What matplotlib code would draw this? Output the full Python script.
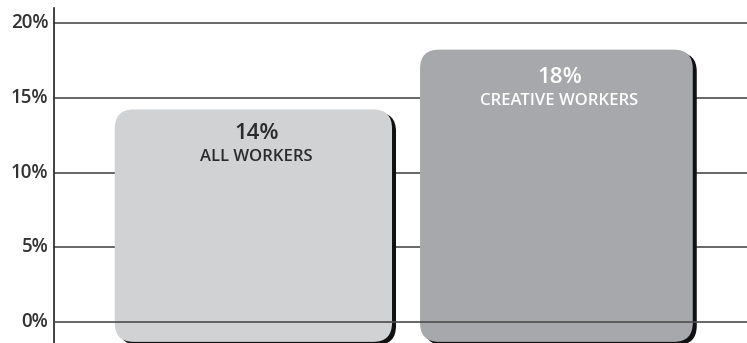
import matplotlib
matplotlib.use("Agg")
import matplotlib.pyplot as plt
from matplotlib.patches import FancyBboxPatch

categories = ["ALL WORKERS", "CREATIVE WORKERS"]
values = [14, 18]
value_labels = ["14%", "18%"]
yticks = [0, 5, 10, 15, 20]
ytick_labels = ["0%", "5%", "10%", "15%", "20%"]

bar_colors = ["#d1d2d4", "#a7a8ab"]
text_colors = ["#2b2b2b", "#ffffff"]
value_offsets = [-17, -20]
cat_offsets = [-34, -37]

W, H = 747, 343
fig = plt.figure(figsize=(W / 100, H / 100), dpi=100)
ax = fig.add_axes([54 / W, 0, 1 - 54 / W, 1])

ymin, ymax = -1.405, 21.54
xmin, xmax = -0.658, 1.629
ax.set_xlim(xmin, xmax)
ax.set_ylim(ymin, ymax)

px_x = (xmax - xmin) / (W - 54)
px_y = (ymax - ymin) / H
aspect = px_y / px_x

font = ["Open Sans", "DejaVu Sans"]
grid_color = "#4d4d4d"

for t in yticks:
    z = 5 if t == 0 else 1
    ax.axhline(t, color=grid_color, lw=1.2, zorder=z)

widths = [0.915, 0.9]
bottom = -1.33
for i, (v, c) in enumerate(zip(values, bar_colors)):
    w = widths[i]
    x0 = i - w / 2
    top = v + 0.22
    r = 19 * px_x
    # shadow
    sh = FancyBboxPatch((x0 + 4 * px_x, bottom - 3 * px_y), w, top - bottom,
                        boxstyle=f"round,pad=0,rounding_size={r}",
                        mutation_aspect=aspect, fc="#111111", ec="none", zorder=2)
    ax.add_patch(sh)
    b = FancyBboxPatch((x0, bottom), w, top - bottom,
                       boxstyle=f"round,pad=0,rounding_size={r}",
                       mutation_aspect=aspect, fc=c, ec="none", zorder=3)
    ax.add_patch(b)
    ax.annotate(value_labels[i], xy=(i + 0.01, top), xytext=(0, value_offsets[i]),
                textcoords="offset points", ha="center", va="center",
                fontsize=16, fontweight="semibold", color=text_colors[i],
                family=font, zorder=6)
    ax.annotate(categories[i], xy=(i + 0.01, top), xytext=(0, cat_offsets[i]),
                textcoords="offset points", ha="center", va="center",
                fontsize=12, fontweight="semibold", color=text_colors[i],
                family=font, zorder=6)

for s in ["top", "right", "bottom"]:
    ax.spines[s].set_visible(False)
ax.spines["left"].set_bounds(ymin, 21.0)
ax.spines["left"].set_linewidth(1.2)
ax.spines["left"].set_color("#222222")

ax.set_xticks([])
ax.set_yticks(yticks)
ax.set_yticklabels(ytick_labels, family=font, fontsize=13.5, fontweight="semibold",
                   color="#333333")
ax.tick_params(axis="y", length=0, pad=4)
for lbl in ax.get_yticklabels():
    lbl.set_va("center")

fig.savefig("out.png", dpi=100)
